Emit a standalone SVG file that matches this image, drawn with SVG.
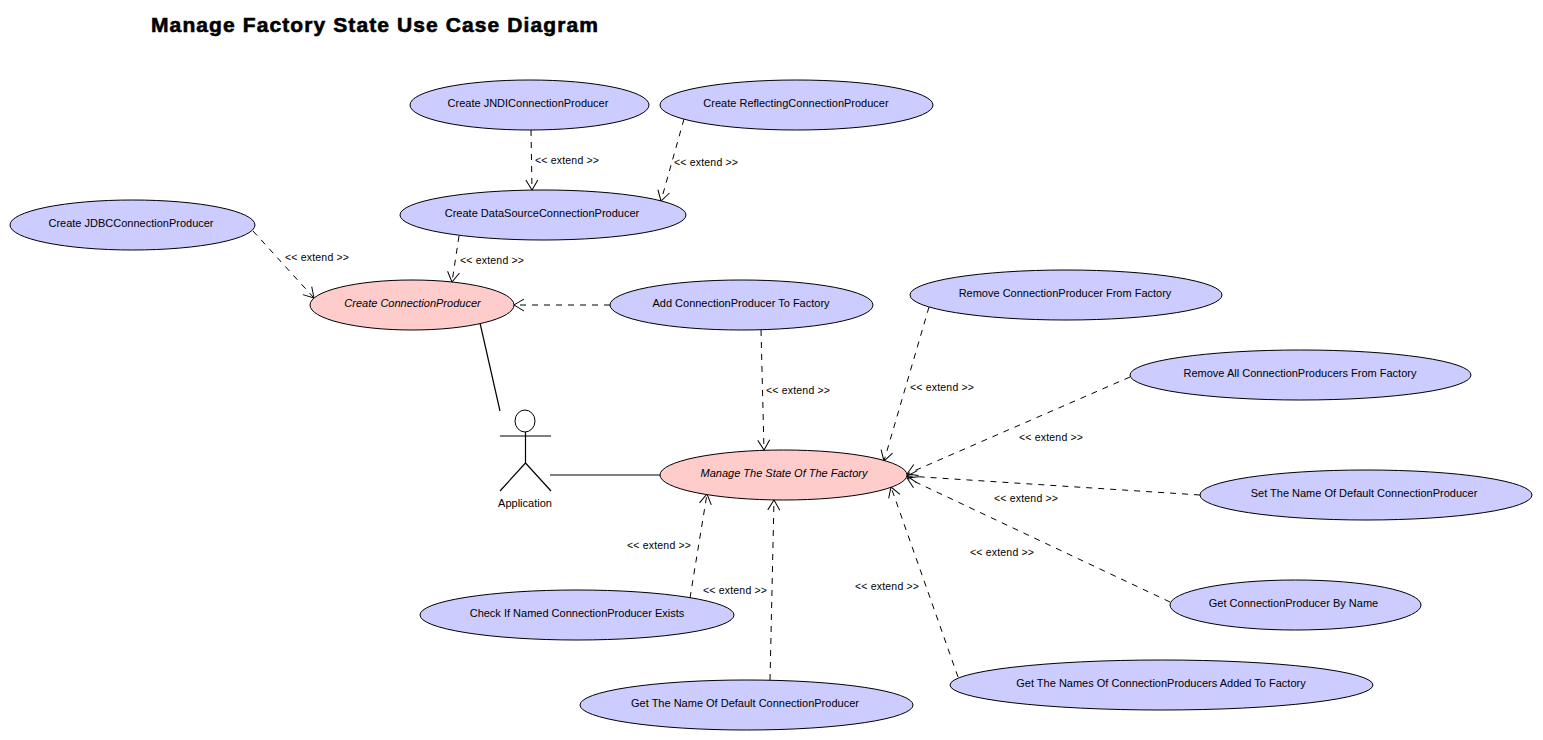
<svg xmlns="http://www.w3.org/2000/svg" width="1543" height="740" viewBox="0 0 1543 740">
<style>
text{font-family:"Liberation Sans",Arial,sans-serif;font-size:11px;fill:#000}
.e{font-size:10.5px}
.n{text-anchor:middle}
.i{font-style:italic}
.u{fill:#ccccff;stroke:#000;stroke-width:1}
.a{fill:#ffcccc;stroke:#000;stroke-width:1}
.d{fill:none;stroke:#000;stroke-width:1;stroke-dasharray:6 6;marker-end:url(#o)}
.s{fill:none;stroke:#000;stroke-width:1.2}
.t{font-size:21px;font-weight:bold;stroke:#000;stroke-width:.6px}
</style>
<defs><marker id="o" markerUnits="userSpaceOnUse" markerWidth="24" markerHeight="24" refX="12" refY="12" orient="auto" overflow="visible"><path d="M2 6L12 12L2 18" fill="none" stroke="#000" stroke-width="1"/></marker></defs>
<rect width="1543" height="740" fill="#fff"/>
<text class="t" x="151" y="32" textLength="447">Manage Factory State Use Case Diagram</text>
<g id="connectors">
<path class="d" d="M531 130L532 190"/>
<path class="d" d="M684 119L661 201"/>
<path class="d" d="M459 236L452 282"/>
<path class="d" d="M253 231L314 298"/>
<path class="d" d="M610 305L514 305"/>
<path class="d" d="M761 330L764 450"/>
<path class="d" d="M929 307L884 461"/>
<path class="d" d="M1130 377L907 474"/>
<path class="d" d="M1200 495L907 476"/>
<path class="d" d="M1170 602L907 478"/>
<path class="d" d="M958 677L891 487"/>
<path class="d" d="M770 680L774 500"/>
<path class="d" d="M690 598L707 494"/>
<path class="s" d="M480 323L500 411"/>
<path class="s" d="M550 475L660 475"/>
<text class="e" x="535" y="164" textLength="64">&lt;&lt; extend &gt;&gt;</text>
<text class="e" x="674" y="166" textLength="64">&lt;&lt; extend &gt;&gt;</text>
<text class="e" x="460" y="264" textLength="64">&lt;&lt; extend &gt;&gt;</text>
<text class="e" x="285" y="261" textLength="64">&lt;&lt; extend &gt;&gt;</text>
<text class="e" x="766" y="394" textLength="64">&lt;&lt; extend &gt;&gt;</text>
<text class="e" x="910" y="391" textLength="64">&lt;&lt; extend &gt;&gt;</text>
<text class="e" x="1019" y="441" textLength="64">&lt;&lt; extend &gt;&gt;</text>
<text class="e" x="994" y="502" textLength="64">&lt;&lt; extend &gt;&gt;</text>
<text class="e" x="970" y="556" textLength="64">&lt;&lt; extend &gt;&gt;</text>
<text class="e" x="855" y="590" textLength="64">&lt;&lt; extend &gt;&gt;</text>
<text class="e" x="703" y="594" textLength="64">&lt;&lt; extend &gt;&gt;</text>
<text class="e" x="627" y="549" textLength="64">&lt;&lt; extend &gt;&gt;</text>
</g>
<g id="jndi"><ellipse class="u" cx="529.5" cy="105" rx="119.5" ry="25"/><text class="n" x="528" y="107">Create JNDIConnectionProducer</text></g>
<g id="reflecting"><ellipse class="u" cx="796.5" cy="105" rx="136.5" ry="25"/><text class="n" x="796" y="107">Create ReflectingConnectionProducer</text></g>
<g id="datasource"><ellipse class="u" cx="543" cy="215" rx="143" ry="25"/><text class="n" x="542" y="217">Create DataSourceConnectionProducer</text></g>
<g id="jdbc"><ellipse class="u" cx="132.5" cy="225" rx="122.5" ry="25"/><text class="n" x="131" y="227">Create JDBCConnectionProducer</text></g>
<g id="create"><ellipse class="a" cx="412" cy="305" rx="102" ry="25"/><text class="n i" x="412.500" y="307">Create ConnectionProducer</text></g>
<g id="add"><ellipse class="u" cx="741.5" cy="305" rx="131.5" ry="25"/><text class="n" x="741" y="307">Add ConnectionProducer To Factory</text></g>
<g id="remove"><ellipse class="u" cx="1066" cy="295" rx="156" ry="25"/><text class="n" x="1065" y="297">Remove ConnectionProducer From Factory</text></g>
<g id="removeall"><ellipse class="u" cx="1300.5" cy="375" rx="170.5" ry="25"/><text class="n" x="1300" y="377">Remove All ConnectionProducers From Factory</text></g>
<g id="manage"><ellipse class="a" cx="783.5" cy="475" rx="123.5" ry="25"/><text class="n i" x="784" y="477">Manage The State Of The Factory</text></g>
<g id="setdefault"><ellipse class="u" cx="1366" cy="495" rx="166" ry="25"/><text class="n" x="1364" y="497">Set The Name Of Default ConnectionProducer</text></g>
<g id="getbyname"><ellipse class="u" cx="1295.5" cy="605" rx="125.5" ry="25"/><text class="n" x="1293.500" y="607">Get ConnectionProducer By Name</text></g>
<g id="check"><ellipse class="u" cx="577" cy="615" rx="157" ry="25"/><text class="n" x="577" y="617">Check If Named ConnectionProducer Exists</text></g>
<g id="names"><ellipse class="u" cx="1161.5" cy="685" rx="211.5" ry="25"/><text class="n" x="1161" y="687">Get The Names Of ConnectionProducers Added To Factory</text></g>
<g id="getdefault"><ellipse class="u" cx="746.5" cy="705" rx="166.5" ry="25"/><text class="n" x="745" y="707">Get The Name Of Default ConnectionProducer</text></g>
<g id="application">
<ellipse cx="525" cy="421" rx="10" ry="11" fill="#fff" stroke="#000"/>
<path class="s" d="M525.500 432V463M500 436H551M525.500 463L500 491M525.500 463L551 491"/>
<text class="n" x="525" y="507">Application</text>
</g>
</svg>
